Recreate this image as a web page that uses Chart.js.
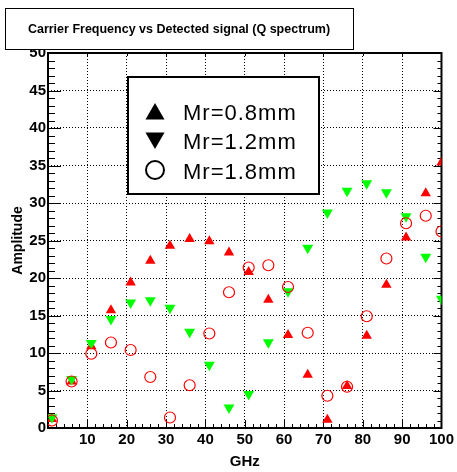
<!DOCTYPE html>
<html>
<head>
<meta charset="utf-8">
<script src="https://cdn.jsdelivr.net/npm/chart.js@4.4.0/dist/chart.umd.min.js"></script>
<style>
  html, body { margin: 0; padding: 0; background: #fff; }
</style>
</head>
<body>
<canvas id="carrier" width="457" height="472"></canvas>
<script>
// carrier frequency (GHz)
var freqs = [1, 6, 11, 16, 21, 26, 31, 36, 41, 46, 51, 56, 61, 66, 71, 76, 81, 86, 91, 96, 100];
// detected amplitude for each Mr
var mr08 = [1.2, 6.2, 10.9, 15.7, 19.4, 22.3, 24.3, 25.2, 24.9, 23.4, 20.8, 17.1, 12.4, 7.1, 1.1, 5.6, 12.3, 19.1, 25.4, 31.3, 35.4];
var mr12 = [1.4, 6.5, 11.3, 14.5, 16.7, 17.0, 16.0, 12.8, 8.4, 2.7, 4.5, 11.4, 18.2, 24.0, 28.7, 31.6, 32.6, 31.4, 28.2, 22.8, 17.2];
var mr18 = [1.0, 6.2, 9.9, 11.4, 10.4, 6.8, 1.4, 5.7, 12.6, 18.1, 21.4, 21.7, 18.8, 12.7, 4.3, 5.5, 14.9, 22.6, 27.3, 28.3, 26.2];
var seriesNames = ["Mr=0.8mm", "Mr=1.2mm", "Mr=1.8mm"];
var chartTitle = "Carrier Frequency vs Detected signal (Q spectrum)";

function pts(ys) {
  return ys.map(function (y, i) { return { x: freqs[i], y: y }; });
}

var FONT = "'Liberation Sans', Arial, sans-serif";

// white bg, frame and inward ticks (ROOT style)
var frame = {
  id: "frame",
  beforeDraw: function (chart) {
    var ctx = chart.ctx;
    ctx.save();
    ctx.fillStyle = "#fff";
    ctx.fillRect(0, 0, chart.width, chart.height);
    ctx.restore();
  },
  beforeDatasetsDraw: function (chart) {
    var ctx = chart.ctx, a = chart.chartArea;
    var xs = chart.scales.x, ys = chart.scales.y;
    ctx.save();
    ctx.strokeStyle = "#000";
    ctx.lineWidth = 1;
    ctx.beginPath();
    var v, p, len;
    for (v = 0; v <= 100; v += 2) {
      p = Math.round(xs.getPixelForValue(v)) + 0.5;
      len = v % 10 === 0 ? 8 : 4;
      ctx.moveTo(p, a.bottom); ctx.lineTo(p, a.bottom - len);
      if (v % 10 === 0) { ctx.moveTo(p, a.top); ctx.lineTo(p, a.top + 3); }
    }
    for (v = 0; v <= 50; v += 1) {
      p = Math.round(ys.getPixelForValue(v)) + 0.5;
      len = v % 5 === 0 ? 13 : 7;
      ctx.moveTo(a.left, p); ctx.lineTo(a.left + len, p);
      len = v % 5 === 0 ? 8 : 4;
      ctx.moveTo(a.right, p); ctx.lineTo(a.right - len, p);
    }
    ctx.stroke();
    ctx.lineWidth = 2;
    ctx.strokeRect(a.left, a.top, a.right - a.left, a.bottom - a.top);
    ctx.restore();
  },
  afterDraw: function (chart) {
    var ctx = chart.ctx;
    ctx.save();
    // title box
    ctx.fillStyle = "#fff";
    ctx.fillRect(5, 8, 348, 41);
    ctx.strokeStyle = "#000";
    ctx.lineWidth = 1;
    ctx.strokeRect(5.5, 8.5, 348, 41);
    ctx.fillStyle = "#000";
    ctx.font = "bold 12.5px " + FONT;
    ctx.textAlign = "center";
    ctx.textBaseline = "middle";
    ctx.fillText(chartTitle, 179, 30);

    // legend box
    ctx.fillStyle = "#fff";
    ctx.fillRect(128, 77, 191, 117);
    ctx.lineWidth = 2;
    ctx.strokeRect(128, 77, 191, 117);
    var markY = [114, 138, 170];
    var textY = [119.5, 149, 179];
    chart.data.datasets.forEach(function (ds, i) {
      var hollow = ds.pointStyle === "circle";
      ctx.fillStyle = hollow ? "rgba(0,0,0,0)" : "#000";
      ctx.strokeStyle = "#000";
      Chart.helpers.drawPoint(ctx, {
        pointStyle: ds.pointStyle,
        rotation: ds.pointRotation || 0,
        radius: hollow ? 9 : 11,
        borderWidth: hollow ? 2 : 0
      }, 155, markY[i]);
      ctx.fillStyle = "#000";
      ctx.font = "22px " + FONT;
      ctx.letterSpacing = "1px";
      ctx.textAlign = "left";
      ctx.textBaseline = "alphabetic";
      ctx.fillText(ds.label, 183, textY[i]);
    });
    ctx.restore();
  }
};

var gridLine = {
  color: "#000",
  drawTicks: false,
  lineWidth: function (c) {
    return c.tick && (c.tick.value === c.scale.min || c.tick.value === c.scale.max) ? 0 : 1;
  }
};

var config = {
  type: "scatter",
  data: {
    datasets: [
      {
        label: seriesNames[0],
        data: pts(mr08),
        pointStyle: "triangle",
        pointRadius: 6,
        pointBorderWidth: 0,
        backgroundColor: "#ff0000",
        borderColor: "#ff0000",
        order: 3
      },
      {
        label: seriesNames[1],
        data: pts(mr12),
        pointStyle: "triangle",
        pointRotation: 180,
        pointRadius: 6.3,
        pointBorderWidth: 0,
        backgroundColor: "#00ff00",
        borderColor: "#00ff00",
        order: 2
      },
      {
        label: seriesNames[2],
        data: pts(mr18),
        pointStyle: "circle",
        pointRadius: 5.5,
        pointBorderWidth: 1.2,
        backgroundColor: "rgba(0,0,0,0)",
        borderColor: "#ff0000",
        order: 1
      }
    ]
  },
  options: {
    responsive: false,
    animation: false,
    layout: { padding: { top: 53, right: 14, left: 0, bottom: 0 } },
    plugins: {
      legend: { display: false },
      tooltip: { enabled: false }
    },
    scales: {
      x: {
        type: "linear",
        min: 0,
        max: 100,
        afterFit: function (s) { s.height = 44; },
        grid: gridLine,
        border: { display: false, dash: [1, 2] },
        ticks: {
          stepSize: 10,
          padding: 3,
          maxRotation: 0,
          autoSkip: false,
          color: "#000",
          font: { family: FONT, size: 15, weight: "bold" },
          callback: function (v) { return v === 0 ? "" : v; }
        },
        title: {
          display: true,
          text: "GHz",
          color: "#000",
          font: { family: FONT, size: 15, weight: "bold" },
          padding: { top: 0, bottom: 1 }
        }
      },
      y: {
        min: 0,
        max: 50,
        afterFit: function (s) { s.width = 48; },
        grid: gridLine,
        border: { display: false, dash: [1, 2] },
        ticks: {
          stepSize: 5,
          padding: 2,
          color: "#000",
          font: { family: FONT, size: 15, weight: "bold" }
        },
        title: {
          display: true,
          text: "Amplitude",
          color: "#000",
          font: { family: FONT, size: 14, weight: "bold" },
          padding: { top: 10, bottom: 0 }
        }
      }
    }
  },
  plugins: [frame]
};

window.addEventListener("load", function () {
  var ctx = document.getElementById("carrier");
  new Chart(ctx, config);
});
</script>
</body>
</html>
